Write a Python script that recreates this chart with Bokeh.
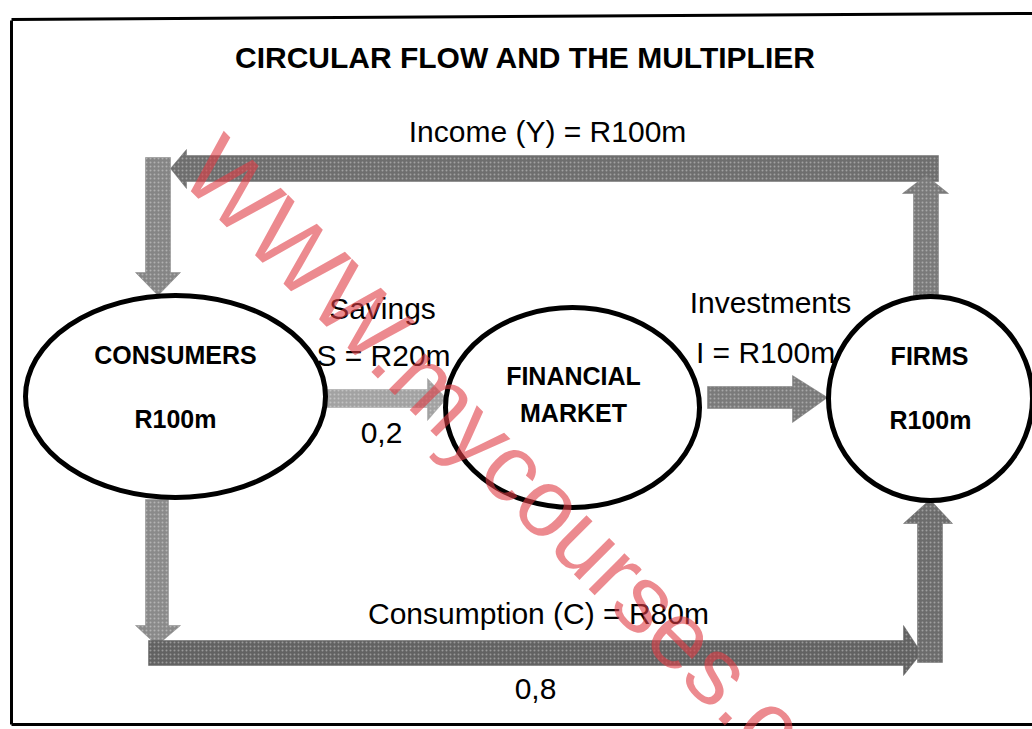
import math
from bokeh.plotting import figure
from bokeh.models import Range1d
from bokeh.core.properties import value
from bokeh.embed import file_html
from bokeh.resources import INLINE

# ---------------- data ----------------
title = "CIRCULAR FLOW AND THE MULTIPLIER"
node_names = ["CONSUMERS", "FINANCIAL", "FIRMS"]
node_sub = ["R100m", "MARKET", "R100m"]
income_m = 100
savings_m = 20
investment_m = 100
consumption_m = 80
mps = "0,2"
mpc = "0,8"
flow_labels = [
    f"Income (Y) = R{income_m}m",
    "Savings",
    f"S = R{savings_m}m",
    mps,
    "Investments",
    f"I = R{investment_m}m",
    f"Consumption (C) = R{consumption_m}m",
    mpc,
]
watermark = "WWW.mycourses.co"

# ---------------- layout (pixel space) ----------------
p = figure(width=1032, height=729, x_range=Range1d(0, 1032), y_range=Range1d(729, 0),
           output_backend="svg", toolbar_location=None, min_border=0,
           x_axis_location=None, y_axis_location=None)
p.grid.visible = False
p.outline_line_color = None
p.background_fill_color = "white"
p.border_fill_color = "white"

# frame
p.line([11, 11], [20, 724], line_color="black", line_width=3)
p.line([11, 1032], [19, 13], line_color="black", line_width=3)
p.line([11, 1032], [724, 724], line_color="black", line_width=3)

FONT = value("Liberation Sans")

def band(xs, ys, color):
    p.patch(xs, ys, fill_color=color, line_color=color, line_alpha=0.5, line_width=1,
            hatch_pattern="dot", hatch_color="white", hatch_alpha=0.35, hatch_scale=4,
            hatch_weight=1)

def harrow(x0, x1, y0, y1, head_len, hy0, hy1, color, right=True):
    yc = (y0 + y1) / 2
    if right:
        b = x1 - head_len
        xs = [x0, b, b, x1, b, b, x0]
    else:
        b = x0 + head_len
        xs = [x1, b, b, x0, b, b, x1]
    ys = [y0, y0, hy0, yc, hy1, y1, y1]
    band(xs, ys, color)

def varrow(y0, y1, x0, x1, head_len, hx0, hx1, color, down=True):
    xc = (x0 + x1) / 2
    if down:
        b = y1 - head_len
        ys = [y0, b, b, y1, b, b, y0]
    else:
        b = y0 + head_len
        ys = [y1, b, b, y0, b, b, y1]
    xs = [x0, x0, hx0, xc, hx1, x1, x1]
    band(xs, ys, color)

# income band (firms -> consumers)
harrow(170, 938, 155, 181, 16, 149, 188, "#6e6e6e", right=False)
varrow(157, 295, 145, 170, 23, 135, 180, "#858585", down=True)
varrow(175, 297, 913, 938, 18, 902, 948, "#7a7a7a", down=False)
# consumption band (consumers -> firms)
varrow(499, 645, 145, 168, 20, 135, 180, "#8a8a8a", down=True)
harrow(148, 921, 640, 665, 18, 625, 675, "#626262", right=True)
varrow(499, 662, 917, 942, 24, 903, 952, "#6c6c6c", down=False)
# savings and investment
harrow(323, 446, 389, 407, 19, 378, 420, "#a2a2a2", right=True)
harrow(707, 827, 386, 408, 35, 375, 422, "#7a7a7a", right=True)

# nodes
node_x = [175, 572, 930]
node_y = [396, 407, 398]
node_w = [300, 254, 204]
node_h = [202, 200, 204]
p.ellipse(node_x, node_y, width=node_w, height=node_h, fill_color=None,
          line_color="black", line_width=5)

p.text([175, 573, 929], [354, 375, 355], text=node_names, text_font=FONT,
       text_font_style="bold", text_font_size="25px", text_align="center",
       text_baseline="middle", text_color="black")
p.text([175, 573, 930], [418, 412, 419], text=node_sub, text_font=FONT,
       text_font_style="bold", text_font_size="25px", text_align="center",
       text_baseline="middle", text_color="black")

# title
p.text([525], [57], text=[title], text_font=FONT, text_font_style="bold",
       text_font_size="30px", text_align="center", text_baseline="middle",
       text_color="black")

# flow labels
lx = [547, 382, 383, 381, 770, 765, 538, 535]
ly = [131, 308, 355, 432, 302, 352, 613, 688]
p.text(lx, ly, text=flow_labels, text_font=FONT, text_font_size="30px",
       text_align="center", text_baseline="middle", text_color="black")

# watermark
p.text([200], [153], text=[watermark], text_font=FONT, text_font_size="96px",
       text_align="left", text_baseline="alphabetic", angle=-math.pi / 4,
       text_color="#e03c44", text_alpha=0.6)

open("out.html", "w").write(file_html(p, INLINE))
